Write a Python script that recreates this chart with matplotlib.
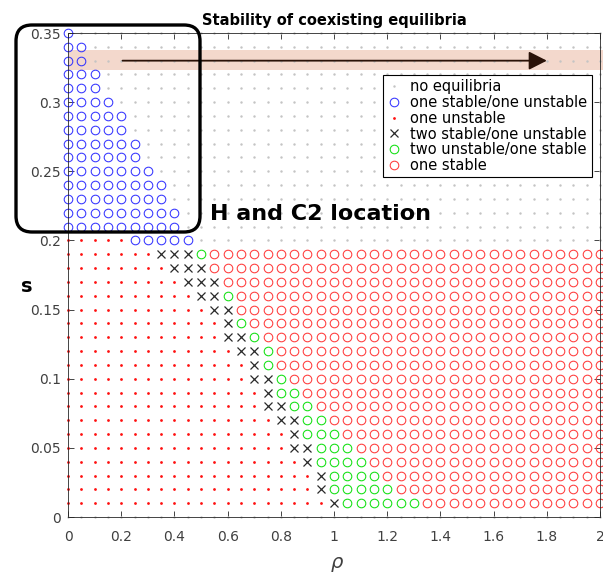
import numpy as np
import matplotlib
matplotlib.use('Agg')
import matplotlib.pyplot as plt
from matplotlib.patches import FancyBboxPatch, Rectangle
from matplotlib.lines import Line2D

plt.rcParams['font.family'] = ['DejaVu Sans']

# parameter grid (rho step 0.05, s step 0.01)
rho_vals = np.round(np.arange(0, 2.0001, 0.05), 2)
s_vals = np.round(np.arange(0, 0.3501, 0.01), 2)

# per row (s = 0.00 ... 0.35), number of grid points of each class, left to right
n_unstable = [0, 20, 19, 19, 18, 17, 17, 16, 15, 15, 14, 14, 13, 12, 12, 11, 10, 9, 8, 7, 5] + [0] * 15
n_two_stable = [0, 1, 1, 1, 1, 2, 1, 2, 2, 1, 2, 1, 2, 2, 1, 2, 2, 3, 3, 3] + [0] * 16
n_two_unstable = [0, 6, 5, 4, 4, 3, 3, 2, 2, 2, 1, 1, 1, 1, 1, 0, 1, 0, 0, 1] + [0] * 16
n_one_one = [0] * 20 + [5, 9, 9, 8, 8, 7, 6, 6, 5, 5, 4, 3, 3, 2, 2, 1]
rest_kind = ['none'] + ['one_stable'] * 19 + ['none'] * 16

legend_order = ['none', 'one_one', 'unstable', 'two_stable', 'two_unstable', 'one_stable']
labels = {
    'none': 'no equilibria',
    'one_one': 'one stable/one unstable',
    'unstable': 'one unstable',
    'two_stable': 'two stable/one unstable',
    'two_unstable': 'two unstable/one stable',
    'one_stable': 'one stable',
}
styles = {
    'none': dict(marker='.', color='#c4c4c4', ms=3.5, mew=0),
    'one_one': dict(marker='o', color='#3434ff', ms=6.2, mew=0.75, mfc='none'),
    'unstable': dict(marker='.', color='#ff1010', ms=4, mew=0),
    'two_stable': dict(marker='x', color='#2a2a2a', ms=5.5, mew=0.9),
    'two_unstable': dict(marker='o', color='#10e010', ms=6.2, mew=0.75, mfc='none'),
    'one_stable': dict(marker='o', color='#ff3a3a', ms=6.2, mew=0.75, mfc='none'),
}

pts = {k: ([], []) for k in legend_order}
for i, s in enumerate(s_vals):
    seq = (['unstable'] * n_unstable[i] + ['two_stable'] * n_two_stable[i]
           + ['two_unstable'] * n_two_unstable[i] + ['one_one'] * n_one_one[i])
    seq += [rest_kind[i]] * (len(rho_vals) - len(seq))
    for r, k in zip(rho_vals, seq):
        pts[k][0].append(r)
        pts[k][1].append(s)

fig = plt.figure(figsize=(6.03, 5.74), dpi=100)
ax = fig.add_axes([0.1128, 0.0993, 0.8823, 0.8432])

# highlighted band + arrow
ax.add_patch(Rectangle((0.005, 0.3235), 2.02, 0.014, facecolor='#f3d8cc',
                       edgecolor='none', zorder=0, clip_on=False))
ax.annotate('', xy=(1.80, 0.33), xytext=(0.205, 0.33),
            arrowprops=dict(arrowstyle='-|>,head_length=0.55,head_width=0.28',
                            color='#2a1208', lw=1.3, mutation_scale=20,
                            shrinkA=0, shrinkB=0), zorder=3)

handles = []
for k in legend_order:
    st = styles[k]
    ax.plot(pts[k][0], pts[k][1], linestyle='none', clip_on=False, zorder=2, **st)
    handles.append(Line2D([], [], linestyle='none', label=labels[k], **st))

ax.set_xlim(0, 2)
ax.set_ylim(0, 0.35)
ax.set_xticks(np.arange(0, 2.01, 0.2))
ax.set_yticks(np.arange(0, 0.351, 0.05))
ax.xaxis.set_major_formatter(plt.FuncFormatter(lambda v, p: '%g' % round(v, 2)))
ax.yaxis.set_major_formatter(plt.FuncFormatter(lambda v, p: '%g' % round(v, 2)))
ax.tick_params(direction='in', top=True, right=True, length=4, width=0.6,
               colors='#262626', labelsize=10, labelcolor='#404040')
ax.tick_params(axis='x', pad=9)
ax.tick_params(axis='y', pad=5)
for sp in ax.spines.values():
    sp.set_color('#262626')
    sp.set_linewidth(0.6)

ax.set_title('Stability of coexisting equilibria', fontweight='bold', fontsize=10.5, pad=6)
fig.text(27 / 603, 1 - 287 / 574, 's', fontsize=14, fontweight='bold',
         ha='center', va='center')
fig.text(337 / 603, 1 - 564 / 574, r'$\rho$', fontsize=14, ha='center', va='center',
         color='#404040')

ax.text(0.535, 0.219, 'H and C2 location', fontsize=16, fontweight='bold',
        va='center', ha='left', zorder=5)

leg = ax.legend(handles=handles, loc='upper right', bbox_to_anchor=(592 / 603, 1 - 75 / 574),
                bbox_transform=fig.transFigure, fontsize=10.5, fancybox=False,
                edgecolor='black', framealpha=1, borderpad=0.3, labelspacing=0.05,
                handlelength=1.0, handletextpad=0.6, borderaxespad=0)
leg.get_frame().set_linewidth(0.8)

# rounded box drawn in pixel coordinates
ov = fig.add_axes([0, 0, 1, 1], zorder=10)
ov.set_xlim(0, 603)
ov.set_ylim(574, 0)
ov.axis('off')
ov.patch.set_alpha(0)
ov.add_patch(FancyBboxPatch((16, 25), 184, 207, boxstyle='round,pad=0,rounding_size=16',
                            fill=False, lw=2.4, ec='black'))

fig.savefig('out.png', dpi=100)
